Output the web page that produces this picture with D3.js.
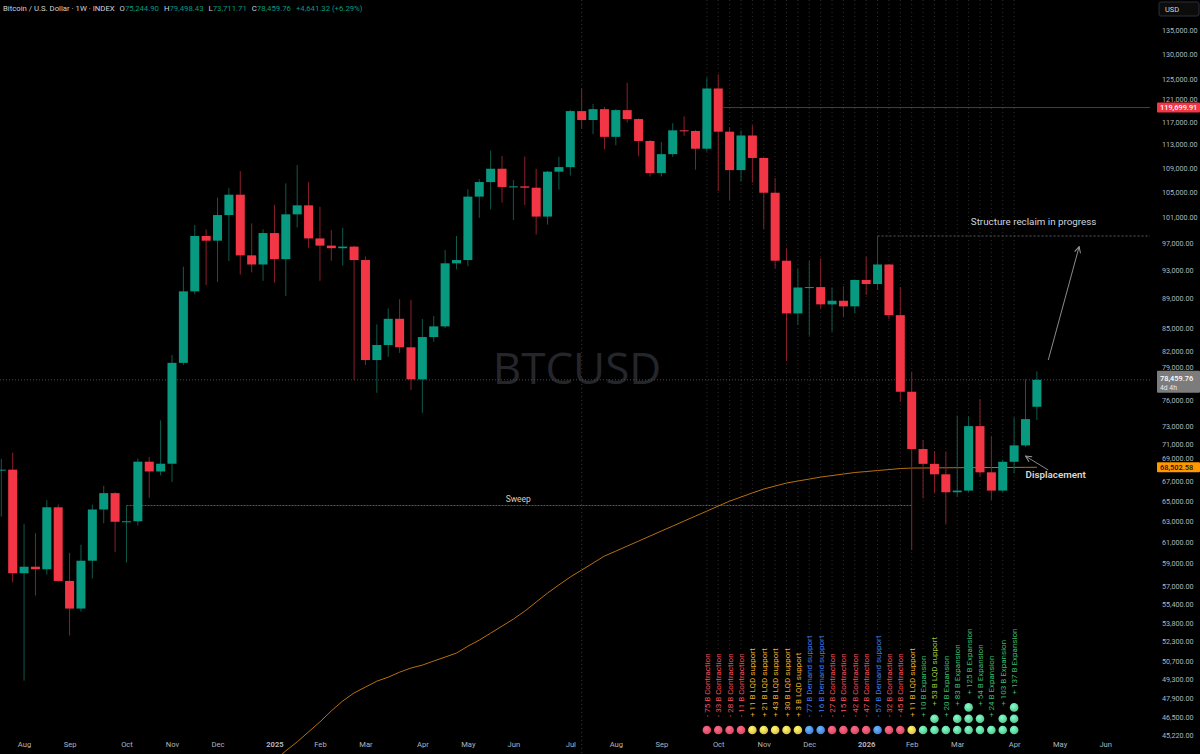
<!DOCTYPE html>
<html>
<head>
<meta charset="utf-8">
<script src="https://cdn.jsdelivr.net/npm/d3@7"></script>
<style>
  html, body { margin: 0; padding: 0; background: #000; }
  svg { display: block; font-family: Roboto, "Liberation Sans", sans-serif; }
</style>
</head>
<body>
<div id="chart"></div>
<script>
// ---- data: weekly BTCUSD index candles, first bar = week of 2024-07-22 ----
const firstWeek = "2024-07-22";
const lastWeek = "2026-04-20";

const opens = [68160, 68250, 58120, 58710, 58480, 64380, 57430, 55020, 59260, 64160,
  65810, 62950, 63000, 69100, 68060, 68880, 80550, 90000, 98070, 97360,
  101310, 104560, 95170, 93830, 98520, 94610, 101420, 102850, 97700, 96620,
  96230, 96470, 94480, 80900, 82810, 86250, 82520, 78520, 83840, 85240,
  94000, 94480, 104250, 106630, 108860, 105820, 105920, 105700, 101070, 108360,
  109130, 119040, 117410, 119400, 114380, 119220, 117580, 113650, 108130, 111350,
  115540, 115420, 112290, 123290, 115300, 108630, 114620, 110690, 104880, 94380,
  86970, 90540, 90600, 88200, 88700, 87930, 91600, 91030, 93830, 86740,
  77020, 70470, 68870, 67760, 65900, 66070, 73020, 67970, 66070, 69090,
  70870, 75244.90];
const highs = [69400, 70080, 62750, 61850, 65100, 64660, 59990, 60750, 64650, 66560,
  65900, 64540, 69440, 69600, 73680, 81540, 93500, 99760, 99100, 104080,
  105630, 108470, 100000, 99100, 102930, 106410, 109480, 106630, 102630, 98980,
  99330, 96600, 95000, 85510, 87650, 88920, 88800, 86210, 86610, 95960,
  98070, 105450, 107100, 111950, 111030, 106970, 110930, 108860, 108500, 110900,
  119300, 123330, 120380, 119800, 119400, 124380, 117700, 113800, 113470, 116820,
  118070, 115600, 125410, 126050, 116100, 115540, 116430, 110800, 107300, 96210,
  93270, 94340, 94730, 90540, 90720, 91700, 94970, 98070, 93900, 90630,
  79450, 71460, 70250, 70180, 74220, 74140, 76150, 71900, 69300, 74030,
  78520, 79498.43];
const lows = [63450, 57300, 49200, 56150, 58000, 57350, 52770, 54760, 57650, 62800,
  60050, 59100, 62600, 65340, 67650, 66960, 80300, 89600, 90890, 91340,
  94340, 92380, 92680, 91480, 91200, 89340, 99380, 96320, 91480, 94380,
  93700, 78430, 80280, 76900, 81300, 81800, 77220, 74550, 83240, 85000,
  93130, 93600, 100880, 102210, 103290, 100530, 102900, 98300, 99830, 105380,
  107720, 115830, 114860, 112190, 112880, 116930, 110980, 107550, 107550, 110870,
  114550, 108690, 111770, 105150, 103700, 106700, 106520, 99100, 93270, 80780,
  85420, 84010, 87620, 84540, 86440, 86970, 89490, 90190, 86170, 75840,
  60250, 65280, 65800, 62720, 65450, 65900, 67520, 65110, 65900, 67870,
  70700, 73711.71];
const closes = [68250, 58120, 58710, 58480, 64380, 57430, 55020, 59260, 64160, 65810,
  62950, 63000, 69100, 68060, 68880, 80550, 90000, 98070, 97360, 101310,
  104560, 95170, 93830, 98520, 94610, 101420, 102850, 97700, 96620, 96230,
  96470, 94480, 80900, 82810, 86250, 82520, 78520, 83840, 85240, 94000,
  94480, 104250, 106630, 108860, 105820, 105920, 105700, 101070, 108360, 109130,
  119040, 117410, 119400, 114380, 119220, 117580, 113650, 108130, 111350, 115540,
  115420, 112290, 123290, 115300, 108630, 114620, 110690, 104880, 94380, 86970,
  90540, 90600, 88200, 88700, 87930, 91600, 91030, 93830, 86740, 77020,
  70470, 68870, 67760, 65900, 66070, 73020, 67970, 66070, 69090, 70870,
  73818.44, 78459.76];

// moving average (orange), one value per bar starting at bar 24
const maStartIndex = 24;
const maValues = [43450, 44120, 44740, 45440, 46150, 46940, 47670, 48270, 48710, 49160,
  49460, 49850, 50170, 50400, 50720, 51030, 51350, 51900, 52390, 52960,
  53540, 54130, 54800, 55580, 56360, 57080, 57780, 58410, 59040, 59690,
  60150, 60620, 61090, 61570, 62050, 62530, 63020, 63510, 64000, 64500,
  65000, 65410, 65830, 66230, 66540, 66850, 67060, 67260, 67470, 67630,
  67790, 67950, 68050, 68160, 68260, 68370, 68420, 68430, 68440, 68450,
  68455, 68460, 68470, 68475, 68480, 68490, 68495, 68502.58];

// weekly liquidity flow notes, bars 62..89
const flowStartIndex = 62;
const flowValues = [-75, -33, -28, -11, 11, 21, 43, 30, 3, -77, -16, -27, -15, -42, -47,
  -57, -32, -45, 11, 10, 53, 20, 83, 125, 54, 24, 103, 137];
const flowKinds = ["contraction", "contraction", "contraction", "contraction",
  "lqd", "lqd", "lqd", "lqd", "lqd", "demand", "demand",
  "contraction", "contraction", "contraction", "contraction", "demand",
  "contraction", "contraction", "lqd", "expansion", "lqdExpansion",
  "expansion", "expansion", "expansion", "expansion", "expansion", "expansion", "expansion"];
const flowDots = [1, 1, 1, 1, 1, 1, 1, 1, 1, 1, 1, 1, 1, 1, 1, 1, 1, 1, 1,
  1, 2, 1, 2, 3, 2, 1, 2, 3];

const monthTicks = ["2024-08-05", "2024-09-02", "2024-10-07", "2024-11-04", "2024-12-02",
  "2025-01-06", "2025-02-03", "2025-03-03", "2025-04-07", "2025-05-05", "2025-06-02",
  "2025-07-07", "2025-08-04", "2025-09-01", "2025-10-06", "2025-11-03", "2025-12-01",
  "2026-01-05", "2026-02-02", "2026-03-02", "2026-04-06", "2026-05-04", "2026-06-01"];
const priceTicks = [135000, 130000, 125000, 121000, 117000, 113000, 109000, 105000, 101000,
  97000, 93000, 89000, 85000, 82000, 79000, 76000, 73000, 71000, 69000, 67000, 65000,
  63000, 61000, 59000, 57000, 55400, 53800, 52300, 50700, 49300, 47900, 46500, 45220];

// levels and notes
const resistanceLevel = 119699.91;
const resistanceFrom = 63;
const sweepLevel = 64560;
const sweepFrom = 11, sweepTo = 80;
const structureLevel = 98070;
const structureFrom = 77;
const markerBar = 51;

// ---- layout ----
const W = 1200, H = 754, plotRight = 1150;
const up = "#089981", down = "#f23645";
const upWick = "#0f5a4c", downWick = "#8a1f2b";
const kindStyle = {
  contraction:  {label: "Contraction",    text: "#f7525f", dot: "#f2506a"},
  lqd:          {label: "LQD support",    text: "#f0b22c", dot: "#f6cf52"},
  demand:       {label: "Demand support", text: "#3f7fea", dot: "#4d8cf2"},
  expansion:    {label: "Expansion",      text: "#3dbd72", dot: "#62dc9c"},
  lqdExpansion: {label: "LQD support",    text: "#9fc83a", dot: "#62dc9c"}
};

const parse = d3.utcParse("%Y-%m-%d");
const weeks = d3.utcMonday.range(parse(firstWeek), d3.utcDay.offset(parse(lastWeek), 1));
const candles = weeks.map((d, i) => ({date: d, o: opens[i], h: highs[i], l: lows[i], c: closes[i]}));

const x = d3.scaleUtc()
  .domain([parse(firstWeek), parse("2026-06-01")])
  .range([1.3, 1.3 + 97 * 11.38]);
const y = d3.scaleLog()
  .domain([45220, 135000])
  .range([735, 30]);
const barX = i => x(d3.utcDay.offset(parse(firstWeek), i * 7));

const svg = d3.select("#chart").append("svg")
  .attr("width", W).attr("height", H);
svg.append("rect").attr("width", W).attr("height", H).attr("fill", "#000");

const defs = svg.append("defs");
defs.append("clipPath").attr("id", "plot")
  .append("rect").attr("width", plotRight).attr("height", H);
defs.append("marker").attr("id", "arrow")
  .attr("viewBox", "0 0 8 8").attr("refX", 7).attr("refY", 4)
  .attr("markerWidth", 8).attr("markerHeight", 8).attr("orient", "auto")
  .append("path").attr("d", "M1,1 L7,4 L1,7")
  .attr("fill", "none").attr("stroke", "#9a9a9a").attr("stroke-width", 1);
Object.entries(kindStyle).forEach(([k, s]) => {
  const g = defs.append("radialGradient").attr("id", "dot-" + k)
    .attr("cx", "40%").attr("cy", "35%").attr("r", "65%");
  g.append("stop").attr("offset", "0%").attr("stop-color", d3.color(s.dot).brighter(0.8));
  g.append("stop").attr("offset", "100%").attr("stop-color", d3.color(s.dot).darker(0.3));
});

const plot = svg.append("g").attr("clip-path", "url(#plot)");

// watermark
plot.append("text")
  .attr("x", 577).attr("y", 384)
  .attr("text-anchor", "middle")
  .attr("font-family", "'Open Sans', sans-serif")
  .attr("font-size", 44)
  .attr("fill", "#25262b")
  .text("BTCUSD");

// flow guide lines + labels
const flows = flowValues.map((v, k) => ({
  i: flowStartIndex + k, v: v, kind: flowKinds[k], dots: flowDots[k]
}));
const flowG = plot.append("g");
const dotBase = 730, dotStep = 11.3;
flows.forEach(f => {
  const cx = barX(f.i);
  const s = kindStyle[f.kind];
  const textStart = dotBase - (f.dots - 1) * dotStep - 13;
  const label = (f.v < 0 ? "- " : "+ ") + Math.abs(f.v) + " B " + s.label;
  const t = flowG.append("text")
    .attr("transform", "translate(" + (cx + 3) + "," + textStart + ") rotate(-90)")
    .attr("font-size", 8)
    .attr("fill", s.text)
    .text(label);
  const len = t.node().getComputedTextLength();
  flowG.append("line")
    .attr("x1", cx).attr("x2", cx)
    .attr("y1", 0).attr("y2", textStart - len - 4)
    .attr("stroke", "#2e2e2e").attr("stroke-dasharray", "1,3");
  for (let j = 0; j < f.dots; j++) {
    flowG.append("circle")
      .attr("cx", cx).attr("cy", dotBase - j * dotStep)
      .attr("r", 4.3)
      .attr("fill", "url(#dot-" + f.kind + ")");
  }
});

// vertical marker
plot.append("line")
  .attr("x1", barX(markerBar)).attr("x2", barX(markerBar))
  .attr("y1", 0).attr("y2", H)
  .attr("stroke", "#333").attr("stroke-dasharray", "1,3");

// last price line
plot.append("line")
  .attr("x1", 0).attr("x2", plotRight)
  .attr("y1", y(closes[closes.length - 1])).attr("y2", y(closes[closes.length - 1]))
  .attr("stroke", "#4a4a4a").attr("stroke-dasharray", "1,2");

// resistance level
plot.append("line")
  .attr("x1", barX(resistanceFrom) + 5).attr("x2", plotRight)
  .attr("y1", y(resistanceLevel)).attr("y2", y(resistanceLevel))
  .attr("stroke", "#8e1f2b").attr("stroke-width", 1);

// sweep level
plot.append("line")
  .attr("x1", barX(sweepFrom)).attr("x2", barX(sweepTo))
  .attr("y1", y(sweepLevel)).attr("y2", y(sweepLevel))
  .attr("stroke", "#5a5a5a").attr("stroke-dasharray", "2,1");
plot.append("text")
  .attr("x", barX(45.5)).attr("y", y(64900))
  .attr("text-anchor", "middle").attr("font-size", 8.5)
  .attr("fill", "#cfcfcf").text("Sweep");

// structure level
plot.append("line")
  .attr("x1", barX(structureFrom)).attr("x2", plotRight)
  .attr("y1", y(structureLevel)).attr("y2", y(structureLevel))
  .attr("stroke", "#5a5a5a").attr("stroke-dasharray", "2,2");
plot.append("text")
  .attr("x", barX(90.8)).attr("y", y(99800))
  .attr("text-anchor", "middle").attr("font-size", 9.8)
  .attr("fill", "#d1d4dc").text("Structure reclaim in progress");
plot.append("line")
  .attr("x1", barX(92)).attr("y1", y(80900))
  .attr("x2", barX(94.8)).attr("y2", y(96460))
  .attr("stroke", "#8a8a8a").attr("marker-end", "url(#arrow)");

// displacement
plot.append("line")
  .attr("x1", barX(92)).attr("y1", y(68210))
  .attr("x2", barX(90.1)).attr("y2", y(69700))
  .attr("stroke", "#8a8a8a").attr("marker-end", "url(#arrow)");
plot.append("text")
  .attr("x", barX(90.1)).attr("y", y(67350))
  .attr("font-size", 9.8).attr("font-weight", 600)
  .attr("fill", "#d8d8d8").text("Displacement");

// moving average
const maLine = d3.line()
  .x((d, k) => barX(maStartIndex + k))
  .y(d => y(d));
plot.append("path")
  .datum(maValues)
  .attr("d", maLine)
  .attr("fill", "none")
  .attr("stroke", "#b8700f")
  .attr("stroke-width", 1);

// candles
const cg = plot.append("g").selectAll("g").data(candles).join("g");
cg.append("line")
  .attr("x1", d => x(d.date)).attr("x2", d => x(d.date))
  .attr("y1", d => y(d.h)).attr("y2", d => y(d.l))
  .attr("stroke", d => d.c >= d.o ? upWick : downWick)
  .attr("stroke-width", 1);
cg.append("rect")
  .attr("x", d => x(d.date) - 4.5)
  .attr("width", 9)
  .attr("y", d => y(Math.max(d.o, d.c)))
  .attr("height", d => Math.max(1, Math.abs(y(d.o) - y(d.c))))
  .attr("fill", d => d.c >= d.o ? up : down);

// time axis
const fmtMonth = d3.utcFormat("%b"), fmtYear = d3.utcFormat("%Y");
const xAxis = d3.axisBottom(x)
  .tickValues(monthTicks.map(parse))
  .tickSize(0).tickPadding(0)
  .tickFormat(d => d.getUTCMonth() === 0 ? fmtYear(d) : fmtMonth(d));
const xg = svg.append("g").attr("transform", "translate(0,742)").call(xAxis);
xg.select(".domain").remove();
xg.selectAll("text")
  .attr("fill", "#b2b5be").attr("font-size", 7.6)
  .attr("font-family", "Roboto, sans-serif")
  .attr("font-weight", d => d.getUTCMonth() === 0 ? 700 : 400);

// price tags (value, box colour, text colour, optional countdown line)
const tags = [
  {v: resistanceLevel, fill: "#f23645", text: "#fff"},
  {v: closes[closes.length - 1], fill: "#7c7c7c", text: "#fff", sub: "4d 4h"},
  {v: maValues[maValues.length - 1], fill: "#ff9800", text: "#131313"}
];
tags.forEach(t => {
  const cy = y(t.v);
  t.top = t.sub ? cy - 9 : cy - 5;
  t.bottom = t.top + (t.sub ? 22 : 10);
});

// price axis
const yAxis = d3.axisRight(y)
  .tickValues(priceTicks)
  .tickSize(0).tickPadding(0)
  .tickFormat(d3.format(",.2f"));
const yg = svg.append("g").attr("transform", "translate(1162,0)").call(yAxis);
yg.select(".domain").remove();
yg.selectAll("text")
  .attr("fill", "#b2b5be").attr("font-size", 7.2)
  .attr("font-family", "Roboto, sans-serif");
// a tick label that sits under a tag is pushed up so it peeks out above the tag
yg.selectAll(".tick").each(function(d) {
  const ty = y(d);
  const hit = tags.find(t => ty + 4 > t.top && ty - 4 < t.bottom);
  if (hit) d3.select(this).select("text").attr("dy", "0").attr("y", hit.top - 1.5 - ty);
});

// currency box
svg.append("rect").attr("x", 1159).attr("y", 2).attr("width", 40).attr("height", 14)
  .attr("rx", 2).attr("fill", "#0c0c0c").attr("stroke", "#2a2e39");
svg.append("text").attr("x", 1165).attr("y", 12)
  .attr("font-size", 7.5).attr("fill", "#d1d4dc").text("USD");

tags.forEach(t => {
  const cy = y(t.v);
  svg.append("rect")
    .attr("x", 1157).attr("y", t.top)
    .attr("width", 43).attr("height", t.bottom - t.top).attr("fill", t.fill).attr("rx", 1);
  svg.append("text").attr("x", 1160).attr("y", t.sub ? cy + 1 : cy + 2.6)
    .attr("font-size", 7.4).attr("font-weight", 500)
    .attr("fill", t.text).text(d3.format(",.2f")(t.v));
  if (t.sub) {
    svg.append("text").attr("x", 1160).attr("y", cy + 10)
      .attr("font-size", 6.8).attr("fill", "#e8e8e8").text(t.sub);
  }
});

// header legend
const last = candles[candles.length - 1];
const change = last.c - closes[closes.length - 2];
const fmt = d3.format(",.2f");
const legend = svg.append("text").attr("x", 3).attr("y", 10.5).attr("font-size", 7.75);
legend.append("tspan").attr("fill", "#d1d4dc").text("Bitcoin / U.S. Dollar \u00b7 1W \u00b7 INDEX");
[["O", last.o], ["H", last.h], ["L", last.l], ["C", last.c]].forEach(([k, v]) => {
  legend.append("tspan").attr("dx", 5).attr("fill", "#d1d4dc").text(k);
  legend.append("tspan").attr("fill", up).text(fmt(v));
});
legend.append("tspan").attr("dx", 5).attr("fill", up)
  .text("+" + fmt(change) + " (+" + d3.format(".2f")(change / closes[closes.length - 2] * 100) + "%)");
</script>
</body>
</html>
